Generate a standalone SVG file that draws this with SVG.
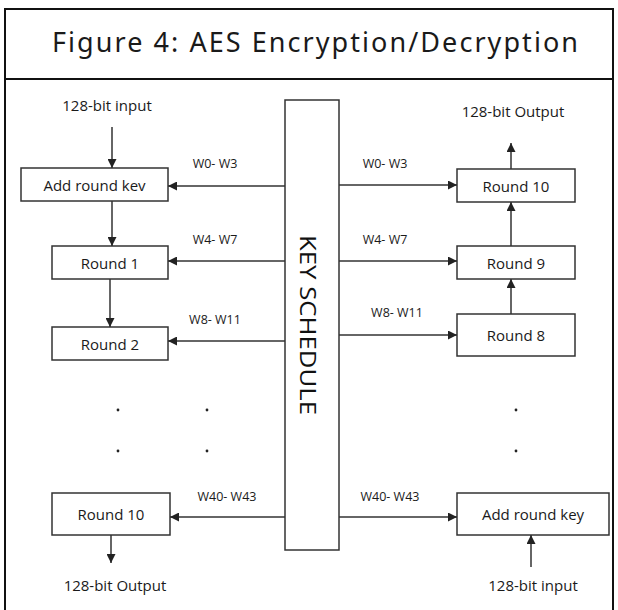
<svg xmlns="http://www.w3.org/2000/svg" width="618" height="610" viewBox="0 0 618 610">
<defs>
<style>
.frame{fill:none;stroke:#111;stroke-width:2}
.box{fill:#fff;stroke:#333;stroke-width:1.5}
.ln{fill:none;stroke:#333;stroke-width:1.5}
.t{font-family:"Open Sans","Liberation Sans",sans-serif;font-size:15px;fill:#1a1a1a;text-anchor:middle;dominant-baseline:central}
.w{font-family:"Open Sans","Liberation Sans",sans-serif;font-size:12.5px;fill:#1a1a1a;text-anchor:middle;dominant-baseline:central}
.title{font-family:"Noto Sans","DejaVu Sans",sans-serif;font-size:27px;fill:#1a1a1a}
.dot{fill:#222}
</style>
<marker id="ah" viewBox="0 0 10 10" refX="10" refY="5" markerWidth="9" markerHeight="9" markerUnits="userSpaceOnUse" orient="auto">
<path d="M0,0 L10,5 L0,10 z" fill="#222"/>
</marker>
</defs>
<rect x="0" y="0" width="618" height="610" fill="#fff"/>
<rect class="frame" x="5" y="9" width="608" height="610"/>
<line x1="5" y1="79" x2="613" y2="79" stroke="#111" stroke-width="2"/>
<text class="title" x="52" y="52" textLength="526" lengthAdjust="spacing">Figure 4: AES Encryption/Decryption</text>

<g id="key-schedule">
<rect class="box" x="285" y="100" width="54" height="450"/>
<text x="0" y="0" transform="translate(300,325) rotate(90)" font-family="Open Sans, Liberation Sans, sans-serif" font-size="22" fill="#111" text-anchor="middle" textLength="180" lengthAdjust="spacingAndGlyphs">KEY SCHEDULE</text>
</g>

<g id="enc-add">
<rect class="box" x="21" y="168" width="147" height="33"/>
<text class="t" x="94.5" y="184.5">Add round kev</text>
</g>
<g id="enc-r1">
<rect class="box" x="52" y="246" width="116" height="33"/>
<text class="t" x="110" y="262.5">Round 1</text>
</g>
<g id="enc-r2">
<rect class="box" x="52" y="327" width="116" height="33"/>
<text class="t" x="110" y="343.5">Round 2</text>
</g>
<g id="enc-r10">
<rect class="box" x="52" y="493" width="118" height="42"/>
<text class="t" x="111" y="514">Round 10</text>
</g>
<g id="enc-in"><text class="t" x="107" y="105">128-bit input</text></g>
<g id="enc-out"><text class="t" x="115" y="585">128-bit Output</text></g>

<g id="dec-r10">
<rect class="box" x="457" y="169" width="118" height="33"/>
<text class="t" x="516" y="185.5">Round 10</text>
</g>
<g id="dec-r9">
<rect class="box" x="457" y="246" width="118" height="33"/>
<text class="t" x="516" y="262.5">Round 9</text>
</g>
<g id="dec-r8">
<rect class="box" x="457" y="314" width="118" height="42"/>
<text class="t" x="516" y="335">Round 8</text>
</g>
<g id="dec-add">
<rect class="box" x="457" y="493" width="152" height="42"/>
<text class="t" x="533" y="514">Add round key</text>
</g>
<g id="dec-out"><text class="t" x="513" y="111">128-bit Output</text></g>
<g id="dec-in"><text class="t" x="533" y="585">128-bit input</text></g>

<g id="dots">
<circle class="dot" cx="118" cy="410" r="1.4"/>
<circle class="dot" cx="207" cy="410" r="1.4"/>
<circle class="dot" cx="118" cy="451" r="1.4"/>
<circle class="dot" cx="207" cy="451" r="1.4"/>
<circle class="dot" cx="516" cy="410" r="1.4"/>
<circle class="dot" cx="516" cy="451" r="1.4"/>
</g>

<g id="connectors">
<line class="ln" x1="112" y1="127" x2="112" y2="168" marker-end="url(#ah)"/>
<line class="ln" x1="112" y1="201" x2="112" y2="246" marker-end="url(#ah)"/>
<line class="ln" x1="110" y1="279" x2="110" y2="327" marker-end="url(#ah)"/>
<line class="ln" x1="111" y1="535" x2="111" y2="563" marker-end="url(#ah)"/>
<line class="ln" x1="285" y1="186" x2="168" y2="186" marker-end="url(#ah)"/>
<line class="ln" x1="285" y1="261" x2="168" y2="261" marker-end="url(#ah)"/>
<line class="ln" x1="285" y1="341" x2="168" y2="341" marker-end="url(#ah)"/>
<line class="ln" x1="285" y1="517" x2="170" y2="517" marker-end="url(#ah)"/>
<line class="ln" x1="339" y1="185" x2="457" y2="185" marker-end="url(#ah)"/>
<line class="ln" x1="339" y1="261" x2="457" y2="261" marker-end="url(#ah)"/>
<line class="ln" x1="339" y1="335" x2="457" y2="335" marker-end="url(#ah)"/>
<line class="ln" x1="339" y1="517" x2="457" y2="517" marker-end="url(#ah)"/>
<line class="ln" x1="511" y1="169" x2="511" y2="143" marker-end="url(#ah)"/>
<line class="ln" x1="511" y1="246" x2="511" y2="202" marker-end="url(#ah)"/>
<line class="ln" x1="511" y1="314" x2="511" y2="279" marker-end="url(#ah)"/>
<line class="ln" x1="531" y1="567" x2="531" y2="535" marker-end="url(#ah)"/>
<text class="w" x="215" y="163">W0- W3</text>
<text class="w" x="215" y="239">W4- W7</text>
<text class="w" x="215" y="319">W8- W11</text>
<text class="w" x="227" y="496">W40- W43</text>
<text class="w" x="385" y="163">W0- W3</text>
<text class="w" x="385" y="239">W4- W7</text>
<text class="w" x="397" y="312">W8- W11</text>
<text class="w" x="390" y="496">W40- W43</text>
</g>
</svg>
